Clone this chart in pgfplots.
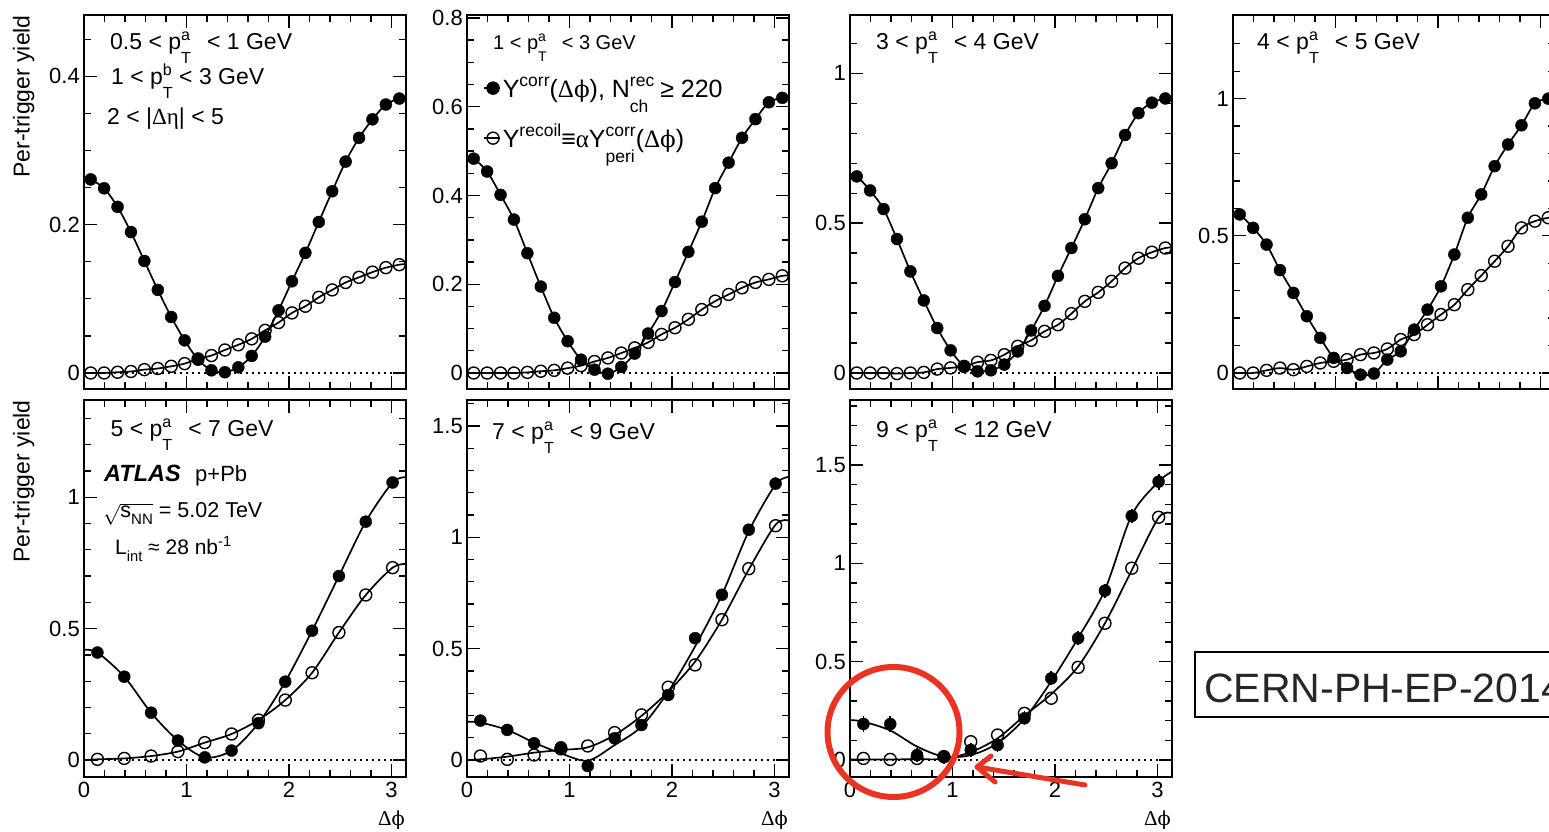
\documentclass[border=0pt]{standalone}
\usepackage{pgfplots}
\usepackage{pgfplotstable}
\pgfplotsset{compat=1.18}
\usepackage{fontspec}
\setmainfont{Liberation Sans}
\newfontfamily\grk{Liberation Serif}
\newfontfamily\djs{DejaVu Serif}[Scale=0.92]
\definecolor{annred}{RGB}{234,51,35}

\makeatletter
\newcommand{\scr}{\edef\scrsize{\strip@pt\dimexpr0.7\dimexpr\f@size pt\relax\relax}\fontsize{\scrsize}{\scrsize}\selectfont}
\makeatother
\newcommand{\fs}[1]{\fontsize{#1}{#1}\selectfont}
\newcommand{\SupSub}[2]{{\setbox0\hbox{\scr #1}\setbox2\hbox{\scr #2}%
  \ifdim\wd0>\wd2 \rlap{\raisebox{-0.6em}{\box2}}\raisebox{0.425em}{\box0}%
  \else\rlap{\raisebox{0.425em}{\box0}}\raisebox{-0.6em}{\box2}\fi}}
\newcommand{\Sup}[1]{\raisebox{0.425em}{\scr #1}}
\newcommand{\Sub}[1]{\raisebox{-0.3em}{\scr #1}}
\newcommand{\dphi}{{\grk Δ}{\djs ϕ}}

\pgfplotsset{
  panel/.style={
    scale only axis, width=322pt, anchor=south west,
    xmin=0, xmax=3.14159,
    axis line style={line width=1.6pt},
    tick style={line width=1.3pt, black},
    major tick length=13pt, minor tick length=7pt,
    tick align=inside,
    xtick pos=both, ytick pos=both,
    xticklabel pos=lower, yticklabel pos=left,
    xtick={0,1,2,3},
    minor xtick={0.2,0.4,0.6,0.8,1.2,1.4,1.6,1.8,2.2,2.4,2.6,2.8},
    tick label style={font=\fs{22}},
    /pgf/number format/assume math mode=true,
    yticklabel style={inner sep=0pt, xshift=-4pt},
    xticklabel style={inner sep=0pt, yshift=-5pt},
  },
  toprow/.style={panel, height=374pt, xticklabels={}},
  botrow/.style={panel, height=377pt},
  fitl/.style={smooth, no marks, line width=1.7pt, black},
  fmk/.style={only marks, mark=*, mark size=6pt, black, restrict x to domain=0.03:3.11},
  omk/.style={only marks, mark=o, mark size=6pt, black, mark options={line width=1.4pt}, restrict x to domain=0.03:3.11},
  zline/.style={dash pattern=on 2pt off 4pt, line width=1.8pt, black},
}

% ---------- top row: 24 bins, endpoints (0, pi) for the fit curves ----------
\pgfplotstableread{
x F O
0 0.263 0
0.0654 0.261 0
0.1963 0.249 0
0.3272 0.224 0.001
0.4581 0.190 0.002
0.5890 0.151 0.0045
0.7199 0.112 0.006
0.8508 0.0755 0.009
0.9817 0.044 0.0126
1.1126 0.018 0.019
1.2435 0.0036 0.0235
1.3744 0.001 0.031
1.5053 0.0076 0.038
1.6362 0.023 0.046
1.7671 0.049 0.0575
1.8980 0.0845 0.068
2.0289 0.1236 0.081
2.1598 0.162 0.090
2.2907 0.2036 0.102
2.4216 0.245 0.112
2.5525 0.285 0.122
2.6834 0.317 0.129
2.8143 0.342 0.136
2.9452 0.362 0.142
3.0761 0.370 0.146
3.14159 0.372 0.147
}\tabA

\pgfplotstableread{
x F O
0 0.487 0
0.0654 0.483 0
0.1963 0.454 0
0.3272 0.4015 0
0.4581 0.3457 0
0.5890 0.270 0.0015
0.7199 0.1947 0.004
0.8508 0.1245 0.006
0.9817 0.0717 0.011
1.1126 0.030 0.0166
1.2435 0.0075 0.026
1.3744 -0.0015 0.034
1.5053 0.0136 0.045
1.6362 0.0438 0.0566
1.7671 0.089 0.069
1.8980 0.1396 0.087
2.0289 0.205 0.102
2.1598 0.273 0.121
2.2907 0.341 0.143
2.4216 0.4166 0.162
2.5525 0.474 0.177
2.6834 0.530 0.192
2.8143 0.572 0.204
2.9452 0.610 0.211
3.0761 0.620 0.219
3.14159 0.622 0.220
}\tabB

\pgfplotstableread{
x F O
0 0.660 0
0.0654 0.656 0
0.1963 0.609 0
0.3272 0.547 0
0.4581 0.447 -0.002
0.5890 0.339 0
0.7199 0.242 0.002
0.8508 0.150 0.013
0.9817 0.0756 0.017
1.1126 0.022 0.022
1.2435 0.0056 0.036
1.3744 0.009 0.042
1.5053 0.028 0.061
1.6362 0.072 0.089
1.7671 0.142 0.109
1.8980 0.224 0.139
2.0289 0.324 0.161
2.1598 0.417 0.198
2.2907 0.513 0.239
2.4216 0.617 0.269
2.5525 0.700 0.306
2.6834 0.794 0.350
2.8143 0.867 0.383
2.9452 0.902 0.403
3.0761 0.916 0.417
3.14159 0.918 0.419
}\tabC

\pgfplotstableread{
x F O
0 0.583 0
0.0654 0.578 0
0.1963 0.529 0
0.3272 0.468 0.0097
0.4581 0.375 0.018
0.5890 0.292 0.012
0.7199 0.207 0.024
0.8508 0.128 0.0365
0.9817 0.055 0.0426
1.1126 0.018 0.0487
1.2435 -0.006 0.067
1.3744 -0.002 0.073
1.5053 0.049 0.0876
1.6362 0.079 0.122
1.7671 0.158 0.140
1.8980 0.231 0.176
2.0289 0.316 0.213
2.1598 0.432 0.249
2.2907 0.566 0.304
2.4216 0.651 0.355
2.5525 0.754 0.4075
2.6834 0.833 0.462
2.8143 0.903 0.529
2.9452 0.983 0.5535
3.0761 1.000 0.566
3.14159 1.002 0.568
}\tabD

% ---------- bottom row: 12 bins ----------
\pgfplotstableread{
x F O
0 0.419 0
0.1309 0.409 0.0025
0.3927 0.317 0.006
0.6545 0.180 0.015
0.9163 0.074 0.032
1.1781 0.010 0.066
1.4399 0.036 0.099
1.7017 0.140 0.152
1.9635 0.298 0.228
2.2253 0.492 0.332
2.4871 0.700 0.485
2.7489 0.907 0.628
3.0107 1.056 0.732
3.14159 1.076 0.746
}\tabE

\pgfplotstableread{
x F E O
0.1309 0.177 0.02 0.018
0.3927 0.135 0.02 0.003
0.6545 0.075 0.02 0.0225
0.9163 0.057 0.02 0.050
1.1781 -0.027 0.02 0.063
1.4399 0.0975 0.02 0.123
1.7017 0.157 0.02 0.2025
1.9635 0.292 0.02 0.327
2.2253 0.547 0.025 0.427
2.4871 0.742 0.025 0.630
2.7489 1.034 0.025 0.859
3.0107 1.241 0.03 1.052
}\tabF
\pgfplotstableread{
x F O
0 0.172 0
0.1309 0.168 0.003
0.3927 0.135 0.015
0.6545 0.078 0.033
0.9163 0.030 0.045
1.1781 -0.003 0.057
1.4399 0.067 0.112
1.7017 0.150 0.198
1.9635 0.307 0.307
2.2253 0.510 0.442
2.4871 0.742 0.630
2.7489 1.027 0.855
3.0107 1.237 1.057
3.14159 1.271 1.075
}\fitF

\pgfplotstableread{
x F E O
0.1309 0.183 0.04 0.008
0.3927 0.183 0.04 0.003
0.6545 0.025 0.035 0.008
0.9163 0.017 0.035 0.017
1.1781 0.051 0.035 0.093
1.4399 0.076 0.035 0.127
1.7017 0.212 0.035 0.237
1.9635 0.415 0.035 0.314
2.2253 0.619 0.035 0.471
2.4871 0.861 0.035 0.695
2.7489 1.241 0.035 0.975
3.0107 1.415 0.04 1.234
}\tabG
\pgfplotstableread{
x F O
0 0.203 0.003
0.1309 0.195 0.003
0.3927 0.150 0.003
0.6545 0.068 0.004
0.9163 0.017 0.006
1.1781 0.025 0.040
1.4399 0.085 0.110
1.7017 0.210 0.225
1.9635 0.400 0.335
2.2253 0.620 0.475
2.4871 0.865 0.695
2.7489 1.245 0.965
3.0107 1.415 1.232
3.14159 1.466 1.254
}\fitG

\begin{document}
\begin{tikzpicture}

% ===== Panel 1 =====
\begin{axis}[toprow, at={(84pt,443pt)}, ymin=-0.0216, ymax=0.4827,
  ytick={0,0.2,0.4}, minor ytick={0.05,0.1,0.15,0.25,0.3,0.35,0.45}]
\addplot[zline] coordinates {(0,0) (3.14159,0)};
\addplot[fitl] table[x=x,y=O] {\tabA};
\addplot[fitl] table[x=x,y=F] {\tabA};
\addplot[omk] table[x=x,y=O] {\tabA};
\addplot[fmk] table[x=x,y=F] {\tabA};
\end{axis}

% ===== Panel 2 =====
\begin{axis}[toprow, at={(467pt,443pt)}, ymin=-0.036, ymax=0.8067,
  ytick={0,0.2,0.4,0.6,0.8},
  minor ytick={0.05,0.1,0.15,0.25,0.3,0.35,0.45,0.5,0.55,0.65,0.7,0.75},
  legend cell align=left,
  legend style={at={(0.050,0.829)}, anchor=north west, draw=none, fill=none,
    inner sep=0pt, row sep=20pt, column sep=2pt,
    nodes={inner sep=0pt, text height=18pt, text depth=12pt, font=\fs{25}}},
  legend image code/.code={\draw[#1, line width=1.5pt, mark repeat=2, mark phase=2, yshift=6pt]
    plot coordinates {(-9pt,0pt) (0pt,0pt) (7pt,0pt)};}]
\addlegendimage{mark=*, mark size=6pt, black}
\addlegendentry{Y\Sup{corr}(\dphi), N\SupSub{rec}{ch}\hspace{6pt}≥ 220}
\addlegendimage{mark=o, mark size=6pt, black, mark options={line width=1.4pt}}
\addlegendentry{Y\Sup{recoil}≡{\grk α}Y\SupSub{corr}{peri}(\dphi)}
\addplot[zline] coordinates {(0,0) (3.14159,0)};
\addplot[fitl] table[x=x,y=O] {\tabB};
\addplot[fitl] table[x=x,y=F] {\tabB};
\addplot[omk] table[x=x,y=O] {\tabB};
\addplot[fmk] table[x=x,y=F] {\tabB};
\end{axis}

% ===== Panel 3 =====
\begin{axis}[toprow, at={(850pt,443pt)}, ymin=-0.0534, ymax=1.1945,
  ytick={0,0.5,1}, minor ytick={0.1,0.2,0.3,0.4,0.6,0.7,0.8,0.9,1.1}]
\addplot[zline] coordinates {(0,0) (3.14159,0)};
\addplot[fitl] table[x=x,y=O] {\tabC};
\addplot[fitl] table[x=x,y=F] {\tabC};
\addplot[omk] table[x=x,y=O] {\tabC};
\addplot[fmk] table[x=x,y=F] {\tabC};
\end{axis}

% ===== Panel 4 =====
\begin{axis}[toprow, at={(1233pt,443pt)}, ymin=-0.0583, ymax=1.305,
  ytick={0,0.5,1}, minor ytick={0.1,0.2,0.3,0.4,0.6,0.7,0.8,0.9,1.1,1.2}]
\addplot[zline] coordinates {(0,0) (3.14159,0)};
\addplot[fitl] table[x=x,y=O] {\tabD};
\addplot[fitl] table[x=x,y=F] {\tabD};
\addplot[omk] table[x=x,y=O] {\tabD};
\addplot[fmk] table[x=x,y=F] {\tabD};
\end{axis}

% ===== Panel 5 =====
\begin{axis}[botrow, at={(84pt,55pt)}, ymin=-0.0647, ymax=1.370,
  ytick={0,0.5,1}, minor ytick={0.1,0.2,0.3,0.4,0.6,0.7,0.8,0.9,1.1,1.2,1.3}]
\addplot[zline] coordinates {(0,0) (3.14159,0)};
\addplot[fitl] table[x=x,y=O] {\tabE};
\addplot[fitl] table[x=x,y=F] {\tabE};
\addplot[omk] table[x=x,y=O] {\tabE};
\addplot[fmk] table[x=x,y=F] {\tabE};
\end{axis}

% ===== Panel 6 =====
\begin{axis}[botrow, at={(467pt,55pt)}, ymin=-0.0763, ymax=1.6165,
  ytick={0,0.5,1,1.5}, minor ytick={0.1,0.2,0.3,0.4,0.6,0.7,0.8,0.9,1.1,1.2,1.3,1.4,1.6}]
\addplot[zline] coordinates {(0,0) (3.14159,0)};
\addplot[fitl] table[x=x,y=O] {\fitF};
\addplot[fitl] table[x=x,y=F] {\fitF};
\addplot[omk] table[x=x,y=O] {\tabF};
\addplot[fmk, error bars/.cd, y dir=both, y explicit, error mark=none,
  error bar style={line width=1.8pt}] table[x=x,y=F,y error=E] {\tabF};
\end{axis}

% ===== Panel 7 =====
\begin{axis}[botrow, at={(850pt,55pt)}, ymin=-0.0864, ymax=1.830,
  ytick={0,0.5,1,1.5}, minor ytick={0.1,0.2,0.3,0.4,0.6,0.7,0.8,0.9,1.1,1.2,1.3,1.4,1.6,1.7,1.8}]
\addplot[zline] coordinates {(0,0) (3.14159,0)};
\addplot[fitl] table[x=x,y=O] {\fitG};
\addplot[fitl] table[x=x,y=F] {\fitG};
\addplot[omk] table[x=x,y=O] {\tabG};
\addplot[fmk, error bars/.cd, y dir=both, y explicit, error mark=none,
  error bar style={line width=1.8pt}] table[x=x,y=F,y error=E] {\tabG};
\end{axis}

% ===== axis titles =====
\node[rotate=90, anchor=base east, inner sep=0pt] at (29.5pt,817pt) {\fs{23}Per-trigger yield};
\node[rotate=90, anchor=base east, inner sep=0pt] at (29.5pt,432pt) {\fs{23}Per-trigger yield};
\node[anchor=base east, inner sep=0pt] at (405pt,6pt) {\fs{21}\dphi};
\node[anchor=base east, inner sep=0pt] at (788pt,6pt) {\fs{21}\dphi};
\node[anchor=base east, inner sep=0pt] at (1171pt,6pt) {\fs{21}\dphi};

% ===== panel texts =====
\node[anchor=base west, inner sep=0pt] at (110pt,782pt) {\fs{23}0.5 < p\SupSub{a}{T}\hspace{0.7em}< 1 GeV};
\node[anchor=base west, inner sep=0pt] at (111pt,747pt) {\fs{23}1 < p\SupSub{b}{T} < 3 GeV};
\node[anchor=base west, inner sep=0pt] at (107pt,707pt) {\fs{23}2 < |{\grk Δη}| < 5};
\node[anchor=base west, inner sep=0pt] at (493pt,782pt) {\fs{20}1 < p\SupSub{a}{T}\hspace{0.75em}< 3 GeV};
\node[anchor=base west, inner sep=0pt] at (876pt,782pt) {\fs{23}3 < p\SupSub{a}{T}\hspace{0.7em}< 4 GeV};
\node[anchor=base west, inner sep=0pt] at (1257pt,782pt) {\fs{23}4 < p\SupSub{a}{T}\hspace{0.7em}< 5 GeV};
\node[anchor=base west, inner sep=0pt] at (110.5pt,395pt) {\fs{23}5 < p\SupSub{a}{T}\hspace{0.7em}< 7 GeV};
\node[anchor=base west, inner sep=0pt] at (492pt,392pt) {\fs{23}7 < p\SupSub{a}{T}\hspace{0.7em}< 9 GeV};
\node[anchor=base west, inner sep=0pt] at (876pt,394pt) {\fs{23}9 < p\SupSub{a}{T}\hspace{0.7em}< 12 GeV};

\node[anchor=base west, inner sep=0pt] at (104pt,350pt) {\fs{23.5}\bfseries\itshape ATLAS};
\node[anchor=base west, inner sep=0pt] at (195pt,350pt) {\fs{22}p+Pb};
\node[anchor=base west, inner sep=0pt] at (103pt,314pt) {\fs{21.5}$\sqrt{\mbox{s\Sub{NN}}}$ = 5.02 TeV};
\node[anchor=base west, inner sep=0pt] at (115pt,277pt) {\fs{21}L\Sub{int} ≈ 28 nb\Sup{-1}};

% ===== CERN box =====
\draw[line width=1.5pt] (1195pt,115pt) rectangle (1640pt,180pt);
\node[anchor=base west, inner sep=0pt] at (1204pt,129pt) {\fs{41}\color{black!85}CERN-PH-EP-2014-191};

% ===== red annotation =====
\draw[annred, line width=6pt] (893.5pt,100pt) ellipse [x radius=66pt, y radius=65pt];
\draw[annred, line width=5pt, line cap=round, line join=round] (1085pt,47pt) -- (977pt,65pt);
\draw[annred, line width=5pt, line cap=round, line join=round] (991pt,76pt) -- (977pt,65pt) -- (995pt,50pt);

\pgfresetboundingbox
\path[use as bounding box] (0pt,0pt) rectangle (1549pt,832pt);
\end{tikzpicture}
\end{document}
